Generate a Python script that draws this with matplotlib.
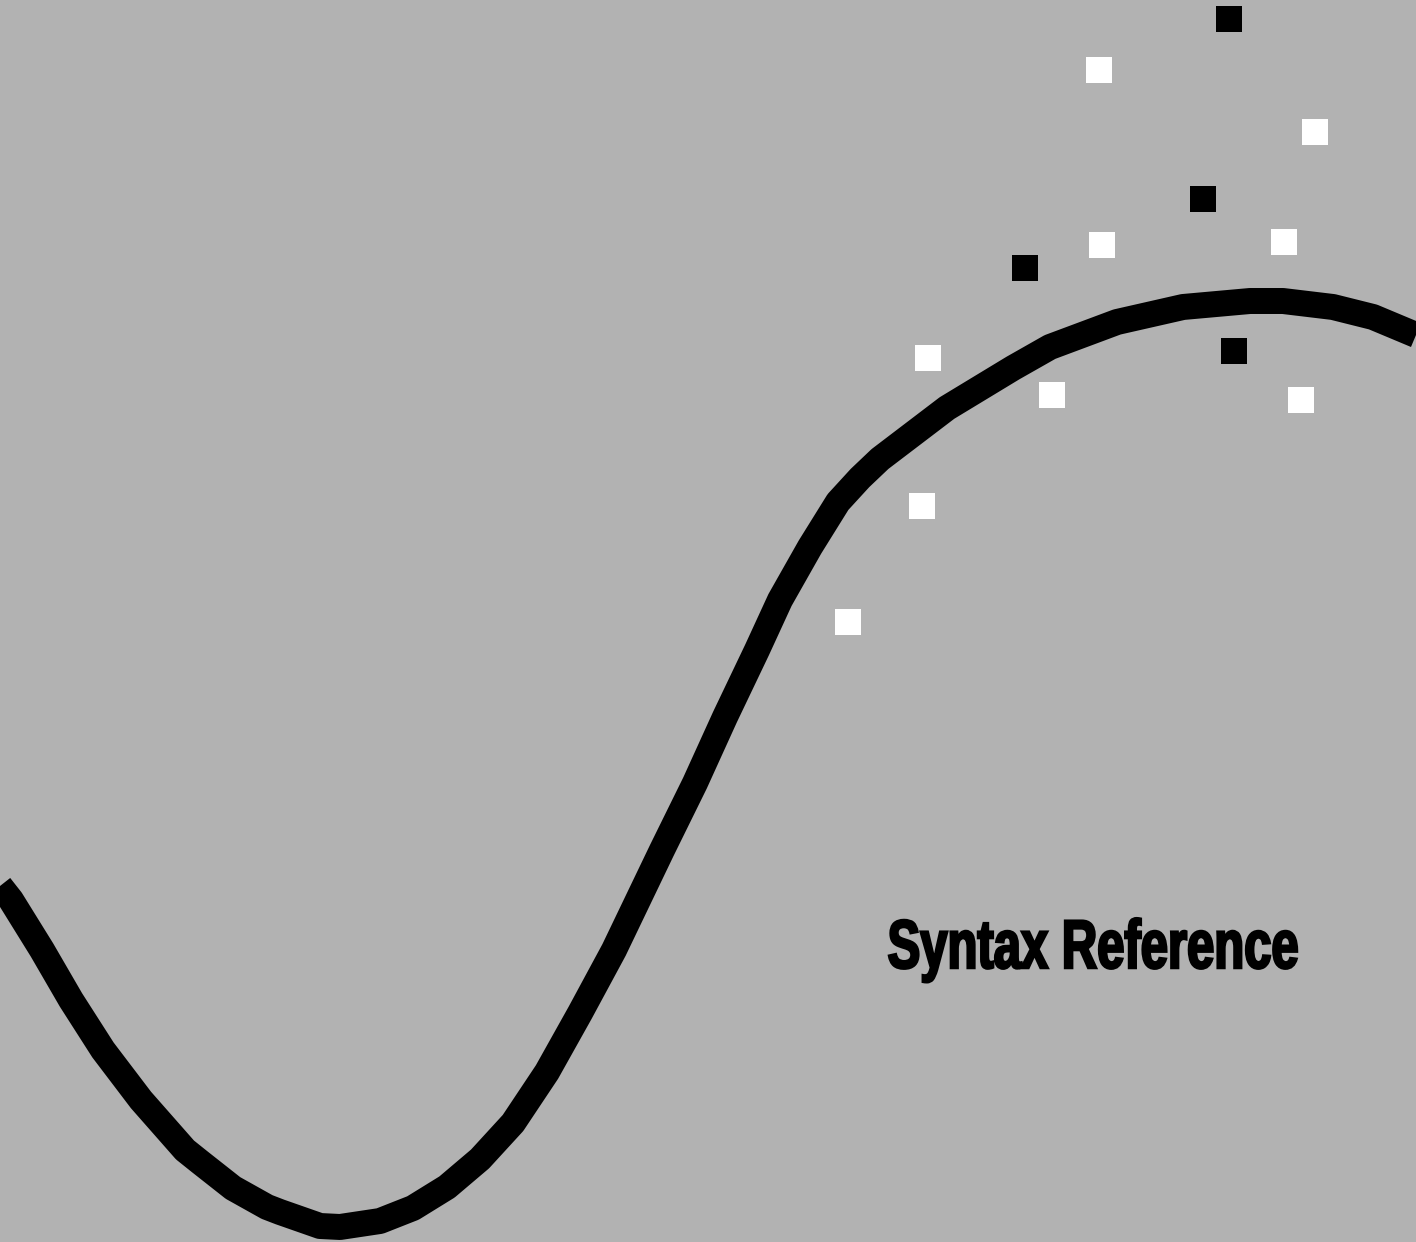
import matplotlib
matplotlib.use('Agg')
import matplotlib.pyplot as plt
from matplotlib.textpath import TextPath
from matplotlib.font_manager import FontProperties
from matplotlib.patches import PathPatch
from matplotlib.transforms import Affine2D

# curve centre line (pixel coords, y down)
curve_x = [0, 11, 42, 71, 103, 141, 185, 200, 233, 267, 280, 320, 340, 380,
           413, 447, 480, 513, 547, 580, 614, 662, 695, 725, 757, 780, 810,
           838, 860, 880, 947, 1013, 1050, 1117, 1183, 1250, 1283, 1333, 1373,
           1416]
curve_y = [886, 900, 950, 1000, 1050, 1100, 1150, 1162, 1188, 1207, 1212, 1226,
           1227, 1221, 1208, 1187, 1159, 1123, 1072, 1013, 950, 850, 783, 717,
           650, 600, 547, 502, 478, 459, 408, 368, 347, 322, 307, 301, 301, 307,
           317, 335]

# squares
white_x = [1099, 1315, 1102, 1284, 928, 1052, 1301, 922, 848]
white_y = [70, 132, 245, 242, 358, 395, 400, 506, 622]
black_x = [1229, 1203, 1025, 1234]
black_y = [19, 199, 268, 351]

title = 'Syntax Reference'

W, H = 1416, 1242
fig = plt.figure(figsize=(W / 100, H / 100), dpi=100)
fig.patch.set_facecolor('#b2b2b2')
ax = fig.add_axes([0, 0, 1, 1])
ax.set_facecolor('#b2b2b2')
ax.set_xlim(0, W)
ax.set_ylim(H, 0)
ax.axis('off')

ax.plot(curve_x, curve_y, color='black', lw=18.7, solid_joinstyle='round',
        solid_capstyle='butt')
ax.plot(white_x, white_y, 's', color='white', ms=18.7, mew=0)
ax.plot(black_x, black_y, 's', color='black', ms=18.7, mew=0)

# condensed heavy title: squeeze a bold text path into the box
fp = FontProperties(family='Liberation Sans', weight='bold')
tp = TextPath((0, 0), title, size=100, prop=fp)
ext = tp.get_extents()
cap = TextPath((0, 0), 'S', size=100, prop=fp).get_extents()
x0, x1, top, base = 889, 1297, 920, 968
sx = (x1 - x0) / ext.width
sy = (base - top) / cap.y1
tr = Affine2D().translate(-ext.x0, 0).scale(sx, -sy).translate(x0, base)
ax.add_patch(PathPatch(tr.transform_path(tp), fc='black', ec='black', lw=1.8))

fig.savefig('out.png', dpi=100, facecolor=fig.get_facecolor())
